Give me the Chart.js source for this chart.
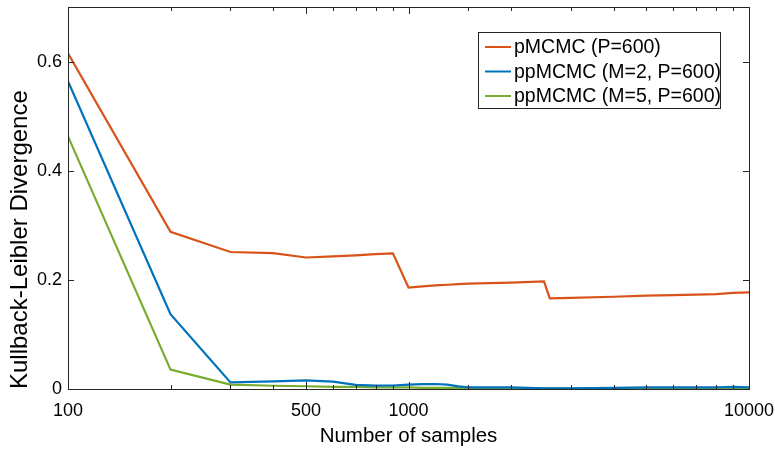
<!DOCTYPE html>
<html>
<head>
<meta charset="utf-8">
<script src="https://cdn.jsdelivr.net/npm/chart.js@4.4.1/dist/chart.umd.min.js"></script>
<style>
  body { margin: 0; background: #fff; }
  #wrap { width: 775px; height: 450px; }
</style>
</head>
<body>
<div id="wrap"><canvas id="myChart" width="775" height="450"></canvas></div>
<script>
// number of samples (x, log scale)
const samples = [100, 200, 300, 400, 500, 600, 700, 800, 900, 1000, 1100, 1200, 1300, 1400, 1500,
  2000, 2500, 2600, 3000, 4000, 5000, 6000, 7000, 8000, 9000, 10000];

// KL divergence per method
const pmcmc = [0.615, 0.288, 0.251, 0.249, 0.241, 0.243, 0.245, 0.247, 0.2485, 0.186, 0.188, 0.190, 0.191, 0.192, 0.193,
  0.195, 0.197, 0.166, 0.167, 0.169, 0.171, 0.172, 0.173, 0.174, 0.176, 0.177];
const ppmcmcM2 = [0.564, 0.137, 0.012, 0.014, 0.0158, 0.0134, 0.0074, 0.0061, 0.0064, 0.0079, 0.0088, 0.0092, 0.008, 0.0048, 0.003,
  0.003, 0.001, 0.001, 0.001, 0.002, 0.003, 0.003, 0.003, 0.003, 0.004, 0.003];
const ppmcmcM5 = [0.463, 0.0355, 0.008, 0.006, 0.005, 0.004, 0.004, 0.003, 0.003, 0.003, 0.002, 0.002, 0.002, 0.002, 0.002,
  0.001, 0.001, 0.001, 0.001, 0.001, 0.001, 0.0005, 0.0005, 0.0005, 0.0005, 0.0005];

const seriesNames = ['pMCMC (P=600)', 'ppMCMC (M=2, P=600)', 'ppMCMC (M=5, P=600)'];
const seriesColors = ['#D95319', '#0072BD', '#77AC30'];

const xTickLabels = [100, 500, 1000, 10000];
const yTickValues = [0, 0.2, 0.4, 0.6];

const FONT = "'Liberation Sans', Arial, Helvetica, sans-serif";
const AXIS = '#262626';

function toPoints(ys) {
  return samples.map((x, i) => ({ x: x, y: ys[i] }));
}

// box around the plot and inward tick marks, MATLAB style
const boxTicks = {
  id: 'boxTicks',
  afterDraw(chart) {
    const ctx = chart.ctx;
    const a = chart.chartArea;
    const xs = chart.scales.x, ys = chart.scales.y;
    ctx.save();
    ctx.strokeStyle = AXIS;
    ctx.lineWidth = 1;
    ctx.strokeRect(Math.round(a.left) + 0.5, Math.round(a.top) + 0.5,
      Math.round(a.right - a.left), Math.round(a.bottom - a.top));
    ctx.beginPath();
    xs.ticks.forEach(t => {
      const px = Math.round(xs.getPixelForValue(t.value)) + 0.5;
      const len = xTickLabels.includes(t.value) ? 7 : 4;
      ctx.moveTo(px, a.bottom); ctx.lineTo(px, a.bottom - len);
      ctx.moveTo(px, a.top); ctx.lineTo(px, a.top + len);
    });
    ys.ticks.forEach(t => {
      const py = Math.round(ys.getPixelForValue(t.value)) + 0.5;
      ctx.moveTo(a.left, py); ctx.lineTo(a.left + 6, py);
      ctx.moveTo(a.right, py); ctx.lineTo(a.right - 6, py);
    });
    ctx.stroke();
    ctx.restore();
  }
};

// legend box inside the plot, top right
const boxLegend = {
  id: 'boxLegend',
  afterDraw(chart) {
    const ctx = chart.ctx;
    const a = chart.chartArea;
    const w = 242, h = 76;
    const x0 = a.right - 29 - w, y0 = a.top + 25;
    ctx.save();
    ctx.fillStyle = '#fff';
    ctx.fillRect(x0, y0, w, h);
    ctx.strokeStyle = AXIS;
    ctx.lineWidth = 1;
    ctx.strokeRect(Math.round(x0) + 0.5, Math.round(y0) + 0.5, w, h);
    ctx.font = '19.5px ' + FONT;
    ctx.textBaseline = 'middle';
    ctx.fillStyle = '#000';
    chart.data.datasets.forEach((ds, i) => {
      const cy = y0 + 15 + i * 24.5;
      ctx.strokeStyle = ds.borderColor;
      ctx.lineWidth = 2;
      ctx.beginPath();
      ctx.moveTo(x0 + 7, cy); ctx.lineTo(x0 + 33, cy);
      ctx.stroke();
      ctx.fillText(ds.label, x0 + 36, cy + 1);
    });
    ctx.restore();
  }
};

const ctx = document.getElementById('myChart').getContext('2d');
const chart = new Chart(ctx, {
  type: 'line',
  data: {
    datasets: [pmcmc, ppmcmcM2, ppmcmcM5].map((ys, i) => ({
      label: seriesNames[i],
      data: toPoints(ys),
      borderColor: seriesColors[i],
      backgroundColor: seriesColors[i],
      borderWidth: 2.2,
      pointRadius: 0,
      tension: 0,
      fill: false
    }))
  },
  options: {
    responsive: false,
    animation: false,
    events: [],
    layout: { padding: { top: 7, right: 26, left: 0, bottom: 0 } },
    plugins: {
      legend: { display: false },
      tooltip: { enabled: false }
    },
    scales: {
      x: {
        type: 'logarithmic',
        min: 100,
        max: 10000,
        grid: { display: false, drawTicks: false },
        border: { display: false },
        ticks: {
          autoSkip: false,
          maxRotation: 0,
          padding: 11,
          color: '#000',
          font: { family: FONT, size: 18 },
          callback: (v) => xTickLabels.includes(v) ? String(v) : ''
        },
        title: {
          display: true,
          text: 'Number of samples',
          color: '#000',
          font: { family: FONT, size: 20.5 },
          padding: { top: 0, bottom: 1 }
        },
        afterFit: (s) => { s.height = 61; s.paddingLeft = 0; s.paddingRight = 0; }
      },
      y: {
        min: 0,
        max: 0.7,
        grid: { display: false, drawTicks: false },
        border: { display: false },
        ticks: {
          stepSize: 0.2,
          includeBounds: false,
          padding: 6,
          color: '#000',
          font: { family: FONT, size: 18 },
          callback: (v) => yTickValues.includes(Math.round(v * 10) / 10) ? String(Math.round(v * 10) / 10) : ''
        },
        title: {
          display: true,
          text: 'Kullback-Leibler Divergence',
          align: 'start',
          color: '#000',
          font: { family: FONT, size: 24 },
          padding: { top: 6, bottom: 0 }
        },
        afterFit: (s) => { s.width = 68; s.paddingTop = 0; s.paddingBottom = 0; }
      }
    }
  },
  plugins: [boxTicks, boxLegend]
});
</script>
</body>
</html>
